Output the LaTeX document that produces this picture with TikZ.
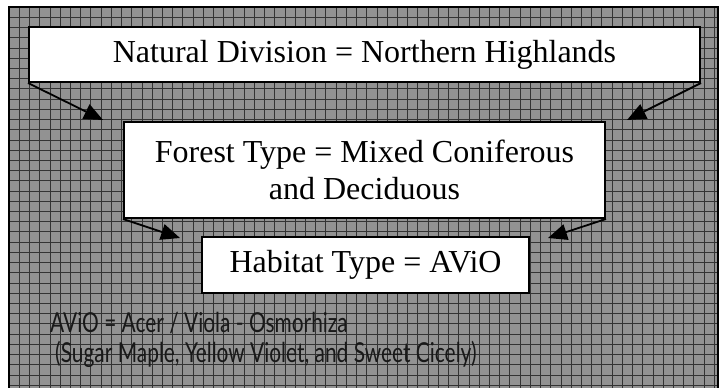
\documentclass[tikz,border=0pt]{standalone}
\usepackage{fontspec}
\setmainfont{Liberation Serif}
\newfontfamily\lightsans{Lato}[FakeStretch=0.76]
\usetikzlibrary{arrows.meta}
\definecolor{bggray}{RGB}{146,146,146}
\begin{document}
\begin{tikzpicture}[x=1pt,y=-1pt,
  box/.style={draw=black, line width=2pt, fill=white, inner sep=0pt,
    font=\fontsize{32}{37}\selectfont, align=center},
  conn/.style={line width=1.8pt, -{Triangle[length=19pt,width=16pt]}},
  gridline/.style={draw=black!80, line width=0.7pt},
  note/.style={font=\lightsans\fontsize{27.5}{30}\selectfont, inner sep=0pt, text=black!90}]
\useasboundingbox (0,0) rectangle (721,388);
\begin{scope}
\clip (0,0) rectangle (721,388);
\fill[bggray] (9,7) rectangle (718,400);
\foreach \i in {1,...,69} \draw[gridline] ({9+\i*10.22},7) -- ({9+\i*10.22},400);
\foreach \j in {1,...,38} \draw[gridline] (9,{7+\j*10.22}) -- (718,{7+\j*10.22});
\draw[line width=2pt] (9,400) -- (9,7) -- (718,7) -- (718,400);
\end{scope}
\node[box, minimum width=671pt, minimum height=55pt] (b1) at (364.5,54.5) {Natural Division = Northern Highlands};
\node[box, minimum width=481pt, minimum height=96pt] (b2) at (364.5,170) {Forest Type = Mixed Coniferous\\and Deciduous};
\node[box, minimum width=327pt, minimum height=56pt] (b3) at (365.5,265) {Habitat Type = AViO};
\coordinate (t1) at (103,120);
\coordinate (t2) at (627,120);
\coordinate (t3) at (180,238);
\coordinate (t4) at (548,238);
\draw[conn] (b1.south west) -- (t1);
\draw[conn] (b1.south east) -- (t2);
\draw[conn] (b2.south west) -- (t3);
\draw[conn] (b2.south east) -- (t4);
\node[note, anchor=base west] (n1) at (50,332) {AViO = Acer / Viola - Osmorhiza};
\node[note, anchor=base west] (n2) at (55,362) {(Sugar Maple, Yellow Violet, and Sweet Cicely)};
\end{tikzpicture}
\end{document}
